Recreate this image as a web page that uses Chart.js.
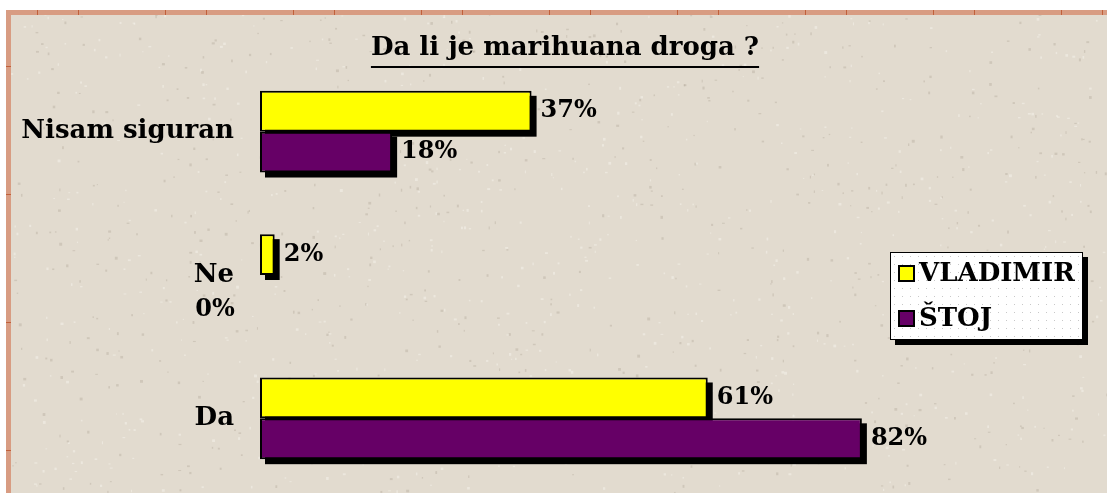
<!DOCTYPE html>
<html>
<head>
<meta charset="utf-8">
<script src="https://cdn.jsdelivr.net/npm/chart.js@4/dist/chart.umd.min.js"></script>
<style>
  html, body { margin: 0; padding: 0; background: #ffffff; }
  canvas { display: block; }
</style>
</head>
<body>
<canvas id="myChart" width="1107" height="493"></canvas>
<script>
const categories = ['Nisam siguran', 'Ne', 'Da'];
const seriesNames = ['VLADIMIR', 'ŠTOJ'];
const vladimir = [37, 2, 61];
const stoj = [18, 0, 82];
const seriesColors = ['#ffff00', '#660066'];
const titleText = 'Da li je marihuana droga ?';

const serif = '"DejaVu Serif", "Liberation Serif", serif';

// beige paper background + salmon border at top and left
const paper = {
    id: 'paper',
    beforeDraw(chart) {
        const ctx = chart.ctx;
        const w = chart.width, h = chart.height;
        ctx.save();
        ctx.fillStyle = '#ffffff';
        ctx.fillRect(0, 0, w, h);
        ctx.fillStyle = '#e2dbcf';
        ctx.fillRect(10, 14, w - 10, h - 14);
        // speckles
        let s = 12345;
        const rnd = () => { s = (s * 16807) % 2147483647; return s / 2147483647; };
        for (let i = 0; i < 1400; i++) {
            const x = 10 + rnd() * (w - 10), y = 14 + rnd() * (h - 14);
            const a = rnd();
            ctx.fillStyle = a < 0.5 ? 'rgba(150,140,125,0.25)' : 'rgba(255,255,250,0.35)';
            ctx.fillRect(x, y, 1 + rnd() * 2, 1 + rnd() * 2);
        }
        ctx.fillStyle = '#d89c82';
        ctx.fillRect(6, 10, w - 6, 5);
        ctx.fillRect(6, 10, 5, h - 10);
        ctx.fillStyle = '#c0603a';
        [37, 78, 165, 206, 293, 334, 421, 462, 549, 590, 677, 718, 805, 846, 933, 974, 1061, 1102].forEach(x => ctx.fillRect(x, 10, 1, 5));
        [66, 194, 322, 450].forEach(y => ctx.fillRect(6, y, 5, 1));
        // title
        ctx.fillStyle = '#000';
        ctx.font = 'bold 26px ' + serif;
        ctx.textAlign = 'center';
        ctx.textBaseline = 'middle';
        ctx.fillText(titleText, 565, 48);
        const tw = ctx.measureText(titleText).width;
        ctx.fillRect(565 - tw / 2, 66, tw, 2);
        ctx.restore();
    }
};

// hard black drop shadow under every bar
const barShadow = {
    id: 'barShadow',
    beforeDatasetsDraw(chart) {
        const ctx = chart.ctx;
        ctx.save();
        ctx.fillStyle = '#000000';
        chart.data.datasets.forEach((ds, i) => {
            chart.getDatasetMeta(i).data.forEach((bar) => {
                const p = bar.getProps(['x', 'y', 'base', 'height'], true);
                const w = Math.abs(p.x - p.base);
                if (w < 1) return;
                ctx.fillRect(Math.min(p.x, p.base) + 5, p.y - p.height / 2 + 5, w, p.height);
            });
        });
        ctx.restore();
    }
};

const valueLabels = {
    id: 'valueLabels',
    afterDatasetsDraw(chart) {
        const ctx = chart.ctx;
        ctx.save();
        ctx.fillStyle = '#000';
        ctx.font = 'bold 24px ' + serif;
        ctx.textBaseline = 'middle';
        chart.data.datasets.forEach((ds, i) => {
            chart.getDatasetMeta(i).data.forEach((bar, j) => {
                const v = ds.data[j];
                if (v > 0) {
                    ctx.textAlign = 'left';
                    ctx.fillText(v + '%', bar.x + 9, bar.y);
                } else {
                    ctx.textAlign = 'center';
                    ctx.fillText(v + '%', chart.chartArea.left - 45, bar.y + 14);
                }
            });
        });
        ctx.restore();
    }
};

const boxLegend = {
    id: 'boxLegend',
    afterDraw(chart) {
        const ctx = chart.ctx;
        const x = 890, y = 252, w = 193, h = 88;
        ctx.save();
        ctx.fillStyle = '#000';
        ctx.fillRect(x + 5, y + 5, w, h);
        ctx.fillStyle = '#ffffff';
        ctx.fillRect(x, y, w, h);
        ctx.fillStyle = '#c8c8c8';
        for (let yy = y + 4; yy < y + h; yy += 8) {
            for (let xx = x + 4; xx < x + w; xx += 8) ctx.fillRect(xx, yy, 1, 1);
        }
        ctx.strokeStyle = '#000';
        ctx.lineWidth = 1;
        ctx.strokeRect(x + 0.5, y + 0.5, w - 1, h - 1);
        ctx.font = 'bold 26px ' + serif;
        ctx.textAlign = 'left';
        ctx.textBaseline = 'middle';
        chart.data.datasets.forEach((ds, i) => {
            const cy = y + 21 + i * 45;
            ctx.fillStyle = ds.backgroundColor;
            ctx.fillRect(x + 9, cy - 7, 15, 15);
            ctx.lineWidth = 2;
            ctx.strokeRect(x + 9, cy - 7, 15, 15);
            ctx.fillStyle = '#000';
            ctx.fillText(ds.label, x + 29, cy + 1);
        });
        ctx.restore();
    }
};

const config = {
    type: 'bar',
    data: {
        labels: categories,
        datasets: [{
            label: seriesNames[0],
            data: vladimir,
            backgroundColor: seriesColors[0],
            borderColor: '#000000',
            borderWidth: 2,
            borderSkipped: false
        }, {
            label: seriesNames[1],
            data: stoj,
            backgroundColor: seriesColors[1],
            borderColor: '#000000',
            borderWidth: 2,
            borderSkipped: false
        }]
    },
    options: {
        indexAxis: 'y',
        responsive: false,
        animation: false,
        categoryPercentage: 0.57,
        barPercentage: 1,
        layout: {
            padding: { top: 60, right: 113, bottom: 3, left: 0 }
        },
        plugins: {
            legend: { display: false },
            title: { display: false },
            tooltip: { enabled: false }
        },
        scales: {
            x: {
                display: false,
                min: 0,
                max: 100,
                afterFit: function (scale) {
                    scale.height = 0;
                }
            },
            y: {
                afterFit: function (scale) {
                    scale.width = 260;
                    scale.paddingTop = 0;
                    scale.paddingBottom = 0;
                },
                grid: { display: false, drawTicks: false },
                border: { display: false },
                ticks: {
                    color: '#000000',
                    padding: 26,
                    font: { family: serif, size: 26, weight: 'bold' }
                }
            }
        }
    },
    plugins: [paper, barShadow, valueLabels, boxLegend]
};

const myChart = new Chart(document.getElementById('myChart'), config);
</script>
</body>
</html>
